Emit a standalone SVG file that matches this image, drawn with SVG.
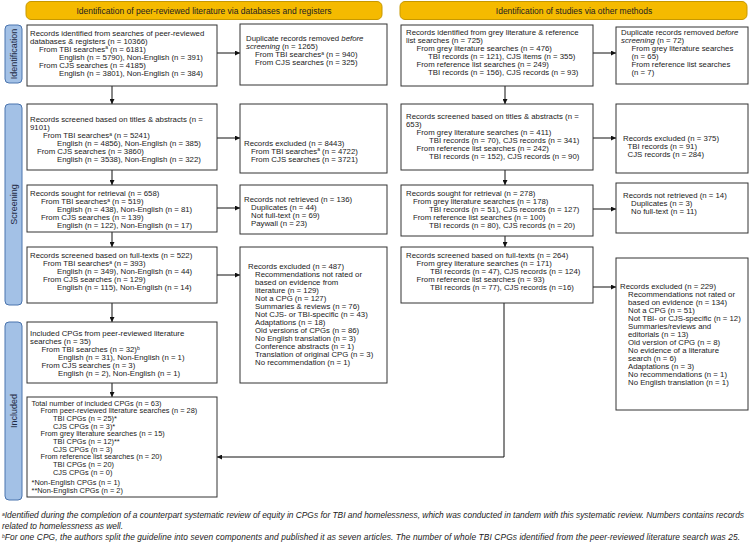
<svg xmlns="http://www.w3.org/2000/svg" width="749" height="543" viewBox="0 0 749 543">
<style>
.t{font-family:"Liberation Sans",Arial,sans-serif;font-size:7.8px;fill:#1a1a1a}
.tc{font-family:"Liberation Sans",Arial,sans-serif;font-size:7.4px;fill:#1a1a1a}
.ht{font-family:"Liberation Sans",Arial,sans-serif;font-size:8.5px;fill:#222;text-anchor:middle}
.st{font-family:"Liberation Sans",Arial,sans-serif;font-size:9px;fill:#1f2a44;text-anchor:middle}
.fn{font-family:"Liberation Sans",Arial,sans-serif;font-size:8.4px;font-style:italic;fill:#1a1a1a}
.sup{font-size:5px}
.box{fill:#fff;stroke:#333;stroke-width:1}
.hdr{fill:#F5BA00;stroke:#C79800;stroke-width:1}
.side{fill:#A3C1E6;stroke:#4A74AE;stroke-width:1}
.c{stroke:#111;stroke-width:1;fill:none}
</style>
<defs>
<marker id="ah" viewBox="0 0 6 6" refX="6" refY="3" markerWidth="5" markerHeight="5" orient="auto" markerUnits="userSpaceOnUse"><path d="M0,0 L6,3 L0,6z" fill="#111"/></marker>
</defs>

<g id="header-left"><rect class="hdr" x="26" y="1.5" width="356" height="18" rx="5"/><text class="ht" x="204" y="14">Identification of peer-reviewed literature via databases and registers</text></g>
<g id="header-right"><rect class="hdr" x="400" y="1.5" width="347" height="18" rx="5"/><text class="ht" x="574" y="14">Identification of studies via other methods</text></g>

<g id="side-identification"><rect class="side" x="5" y="25" width="17" height="58" rx="4"/><text class="st" transform="translate(16.7,54) rotate(-90)">Identification</text></g>
<g id="side-screening"><rect class="side" x="5" y="104" width="17" height="201" rx="4"/><text class="st" transform="translate(16.7,204.5) rotate(-90)">Screening</text></g>
<g id="side-included"><rect class="side" x="5" y="322" width="17" height="178" rx="4"/><text class="st" transform="translate(16.7,411) rotate(-90)">Included</text></g>

<g id="connectors">
<line class="c" x1="217" y1="53" x2="240" y2="53" marker-end="url(#ah)"/>
<line class="c" x1="112" y1="86" x2="112" y2="104" marker-end="url(#ah)"/>
<line class="c" x1="217" y1="138" x2="240" y2="138" marker-end="url(#ah)"/>
<line class="c" x1="112" y1="170" x2="112" y2="185" marker-end="url(#ah)"/>
<line class="c" x1="217" y1="208" x2="240" y2="208" marker-end="url(#ah)"/>
<line class="c" x1="112" y1="232" x2="112" y2="247" marker-end="url(#ah)"/>
<line class="c" x1="217" y1="275" x2="240" y2="275" marker-end="url(#ah)"/>
<line class="c" x1="112" y1="303" x2="112" y2="322" marker-end="url(#ah)"/>
<line class="c" x1="112" y1="383" x2="112" y2="397" marker-end="url(#ah)"/>
<line class="c" x1="593" y1="53" x2="616" y2="53" marker-end="url(#ah)"/>
<line class="c" x1="505" y1="86" x2="505" y2="104" marker-end="url(#ah)"/>
<line class="c" x1="593" y1="138" x2="616" y2="138" marker-end="url(#ah)"/>
<line class="c" x1="505" y1="170" x2="505" y2="185" marker-end="url(#ah)"/>
<line class="c" x1="593" y1="209" x2="616" y2="209" marker-end="url(#ah)"/>
<line class="c" x1="505" y1="236" x2="505" y2="247" marker-end="url(#ah)"/>
<line class="c" x1="593" y1="287" x2="616" y2="287" marker-end="url(#ah)"/>
<path class="c" d="M504,303 V457 H217" marker-end="url(#ah)"/>
</g>

<g id="L-identified"><rect class="box" x="27" y="25" width="190" height="61"/>
<text class="t"><tspan x="30" y="35.5">Records identified from searches of peer-reviewed</tspan><tspan x="30" y="43.5">databases &amp; registers (n = 10366)</tspan><tspan x="39" y="51.5">From TBI searches<tspan class="sup" dy="-2.5">a</tspan><tspan dy="2.5"> (n = 6181)</tspan></tspan><tspan x="59" y="59.5">English (n = 5790), Non-English (n = 391)</tspan><tspan x="39" y="67.5">From CJS searches (n = 4185)</tspan><tspan x="59" y="75.5">English (n = 3801), Non-English (n = 384)</tspan></text></g>

<g id="L-duplicates"><rect class="box" x="240" y="24" width="147" height="61"/>
<text class="t"><tspan x="246" y="41.3">Duplicate records removed <tspan font-style="italic">before</tspan></tspan><tspan x="246" y="49.3"><tspan font-style="italic">screening</tspan> (n = 1265)</tspan><tspan x="255" y="57.3">From TBI searches<tspan class="sup" dy="-2.5">a</tspan><tspan dy="2.5"> (n = 940)</tspan></tspan><tspan x="255" y="65.3">From CJS searches (n = 325)</tspan></text></g>

<g id="L-screened-ta"><rect class="box" x="27" y="104" width="190" height="66"/>
<text class="t"><tspan x="30" y="122">Records screened based on titles &amp; abstracts (n =</tspan><tspan x="30" y="130">9101)</tspan><tspan x="43" y="138">From TBI searches<tspan class="sup" dy="-2.5">a</tspan><tspan dy="2.5"> (n = 5241)</tspan></tspan><tspan x="57" y="146">English (n = 4856), Non-English (n = 385)</tspan><tspan x="37" y="154">From CJS searches (n = 3860)</tspan><tspan x="57" y="162">English (n = 3538), Non-English (n = 322)</tspan></text></g>

<g id="L-excluded-ta"><rect class="box" x="240" y="104" width="147" height="69"/>
<text class="t"><tspan x="244" y="145.5">Records excluded (n = 8443)</tspan><tspan x="251" y="153.5">From TBI searches<tspan class="sup" dy="-2.5">a</tspan><tspan dy="2.5"> (n = 4722)</tspan></tspan><tspan x="251" y="161.5">From CJS searches (n = 3721)</tspan></text></g>

<g id="L-sought"><rect class="box" x="27" y="185" width="190" height="47"/>
<text class="t"><tspan x="30" y="196">Records sought for retrieval (n = 658)</tspan><tspan x="41" y="204">From TBI searches<tspan class="sup" dy="-2.5">a</tspan><tspan dy="2.5"> (n = 519)</tspan></tspan><tspan x="57" y="212">English (n = 438), Non-English (n = 81)</tspan><tspan x="41" y="220">From CJS searches (n = 139)</tspan><tspan x="57" y="228">English (n = 122), Non-English (n = 17)</tspan></text></g>

<g id="L-not-retrieved"><rect class="box" x="240" y="185" width="147" height="49"/>
<text class="t"><tspan x="244" y="202.2">Records not retrieved (n = 136)</tspan><tspan x="251" y="210.2">Duplicates (n = 44)</tspan><tspan x="251" y="218.2">Not full-text (n = 69)</tspan><tspan x="251" y="226.2">Paywall (n = 23)</tspan></text></g>

<g id="L-screened-ft"><rect class="box" x="27" y="247" width="190" height="56"/>
<text class="t"><tspan x="30" y="258.3">Records screened based on full-texts (n = 522)</tspan><tspan x="43" y="266.3">From TBI searches<tspan class="sup" dy="-2.5">a</tspan><tspan dy="2.5"> (n = 393)</tspan></tspan><tspan x="57" y="274.3">English (n = 349), Non-English (n = 44)</tspan><tspan x="43" y="282.3">From CJS searches (n = 129)</tspan><tspan x="57" y="290.3">English (n = 115), Non-English (n = 14)</tspan></text></g>

<g id="L-excluded-ft"><rect class="box" x="240" y="247" width="147" height="136"/>
<text class="t"><tspan x="248" y="269.3">Records excluded (n = 487)</tspan><tspan x="255" y="277.3">Recommendations not rated or</tspan><tspan x="255" y="285.3">based on evidence from</tspan><tspan x="255" y="293.3">literature (n = 129)</tspan><tspan x="255" y="301.3">Not a CPG (n = 127)</tspan><tspan x="255" y="309.3">Summaries &amp; reviews (n = 76)</tspan><tspan x="255" y="317.3">Not CJS- or TBI-specific (n = 43)</tspan><tspan x="255" y="325.3">Adaptations (n = 18)</tspan><tspan x="255" y="333.3">Old versions of CPGs (n = 86)</tspan><tspan x="255" y="341.3">No English translation (n = 3)</tspan><tspan x="255" y="349.3">Conference abstracts (n = 1)</tspan><tspan x="255" y="357.3">Translation of original CPG (n = 3)</tspan><tspan x="255" y="365.3">No recommendation (n = 1)</tspan></text></g>

<g id="L-included"><rect class="box" x="27" y="322" width="190" height="61"/>
<text class="t"><tspan x="30" y="336">Included CPGs from peer-reviewed literature</tspan><tspan x="30" y="344">searches (n = 35)</tspan><tspan x="41.5" y="352">From TBI searches (n = 32)<tspan class="sup" dy="-2.5">b</tspan></tspan><tspan x="58" y="360">English (n = 31), Non-English (n = 1)</tspan><tspan x="41.5" y="368">From CJS searches (n = 3)</tspan><tspan x="58" y="376">English (n = 2), Non-English (n = 1)</tspan></text></g>

<g id="L-total"><rect class="box" x="27" y="397" width="190" height="100"/>
<text class="tc"><tspan x="31.5" y="405.5">Total number of included CPGs (n = 63)</tspan><tspan x="40.5" y="413.2">From peer-reviewed literature searches (n = 28)</tspan><tspan x="53" y="420.9">TBI CPGs (n = 25)*</tspan><tspan x="53" y="428.6">CJS CPGs (n = 3)*</tspan><tspan x="40.5" y="436.3">From grey literature searches (n = 15)</tspan><tspan x="53" y="444">TBI CPGs (n = 12)**</tspan><tspan x="53" y="451.7">CJS CPGs (n = 3)</tspan><tspan x="40.5" y="459.4">From reference list searches (n = 20)</tspan><tspan x="53" y="467.1">TBI CPGs (n = 20)</tspan><tspan x="53" y="474.8">CJS CPGs (n = 0)</tspan><tspan x="31.5" y="484.5">*Non-English CPGs (n = 1)</tspan><tspan x="31.5" y="492.5">**Non-English CPGs (n = 2)</tspan></text></g>

<g id="R-identified"><rect class="box" x="401" y="25" width="192" height="61"/>
<text class="t"><tspan x="406" y="35">Records identified from grey literature &amp; reference</tspan><tspan x="406" y="43">list searches (n = 725)</tspan><tspan x="416.5" y="51">From grey literature searches (n = 476)</tspan><tspan x="428" y="59">TBI records (n = 121), CJS items (n = 355)</tspan><tspan x="416.5" y="67">From reference list searches (n = 249)</tspan><tspan x="428" y="75">TBI records (n = 156), CJS records (n = 93)</tspan></text></g>

<g id="R-duplicates"><rect class="box" x="616" y="27" width="132" height="57"/>
<text class="t"><tspan x="621" y="35">Duplicate records removed <tspan font-style="italic">before</tspan></tspan><tspan x="621" y="43"><tspan font-style="italic">screening</tspan> (n = 72)</tspan><tspan x="631.5" y="51">From grey literature searches</tspan><tspan x="631.5" y="59">(n = 65)</tspan><tspan x="631.5" y="67">From reference list searches</tspan><tspan x="631.5" y="75">(n = 7)</tspan></text></g>

<g id="R-screened-ta"><rect class="box" x="401" y="104" width="192" height="66"/>
<text class="t"><tspan x="406" y="119">Records screened based on titles &amp; abstracts (n =</tspan><tspan x="406" y="127">653)</tspan><tspan x="416.5" y="135">From grey literature searches (n = 411)</tspan><tspan x="429" y="143">TBI records (n = 70), CJS records (n = 341)</tspan><tspan x="416.5" y="151">From reference list searches (n = 242)</tspan><tspan x="429" y="159">TBI records (n = 152), CJS records (n = 90)</tspan></text></g>

<g id="R-excluded-ta"><rect class="box" x="616" y="104" width="132" height="69"/>
<text class="t"><tspan x="623" y="140.8">Records excluded (n = 375)</tspan><tspan x="627.5" y="148.8">TBI records (n = 91)</tspan><tspan x="627.5" y="156.8">CJS records (n = 284)</tspan></text></g>

<g id="R-sought"><rect class="box" x="401" y="185" width="192" height="51"/>
<text class="t"><tspan x="406" y="196">Records sought for retrieval (n = 278)</tspan><tspan x="413" y="204">From grey literature searches (n = 178)</tspan><tspan x="429" y="212">TBI records (n = 51), CJS records (n = 127)</tspan><tspan x="413" y="220">From reference list searches (n = 100)</tspan><tspan x="429" y="228">TBI records (n = 80), CJS records (n = 20)</tspan></text></g>

<g id="R-not-retrieved"><rect class="box" x="616" y="183" width="132" height="50"/>
<text class="t"><tspan x="623" y="197.5">Records not retrieved (n = 14)</tspan><tspan x="631" y="205.5">Duplicates (n = 3)</tspan><tspan x="631" y="213.5">No full-text (n = 11)</tspan></text></g>

<g id="R-screened-ft"><rect class="box" x="401" y="247" width="192" height="56"/>
<text class="t"><tspan x="406" y="258.3">Records screened based on full-texts (n = 264)</tspan><tspan x="416.5" y="266.3">From grey literature searches (n = 171)</tspan><tspan x="430" y="274.3">TBI records (n = 47), CJS records (n = 124)</tspan><tspan x="416.5" y="282.3">From reference list searches (n = 93)</tspan><tspan x="430" y="290.3">TBI records (n = 77), CJS records (n =16)</tspan></text></g>

<g id="R-excluded-ft"><rect class="box" x="616" y="258" width="132" height="152"/>
<text class="t"><tspan x="620" y="289">Records excluded (n = 229)</tspan><tspan x="628" y="297">Recommendations not rated or</tspan><tspan x="628" y="305">based on evidence (n = 134)</tspan><tspan x="628" y="313">Not a CPG (n = 51)</tspan><tspan x="628" y="321">Not TBI- or CJS-specific (n = 12)</tspan><tspan x="628" y="329">Summaries/reviews and</tspan><tspan x="628" y="337">editorials (n = 13)</tspan><tspan x="628" y="345">Old version of CPG (n = 8)</tspan><tspan x="628" y="353">No evidence of a literature</tspan><tspan x="628" y="361">search (n = 6)</tspan><tspan x="628" y="369">Adaptations (n = 3)</tspan><tspan x="628" y="377">No recommendations (n = 1)</tspan><tspan x="628" y="385">No English translation (n = 1)</tspan></text></g>

<g id="footnotes">
<text class="fn" x="2" y="518"><tspan class="sup" dy="-2.5">a</tspan><tspan dy="2.5">Identified during the completion of  a counterpart systematic review of equity in CPGs for TBI and homelessness, which was conducted in tandem with this systematic review. Numbers contains records</tspan></text>
<text class="fn" x="2" y="529">related to homelessness as well.</text>
<text class="fn" x="2" y="540" textLength="738" lengthAdjust="spacing"><tspan class="sup" dy="-2.5">b</tspan><tspan dy="2.5">For one CPG, the authors split the guideline into seven components and published it as seven articles. The number of whole TBI CPGs identified from the peer-reviewed literature search was 25.</tspan></text>
</g>
</svg>
